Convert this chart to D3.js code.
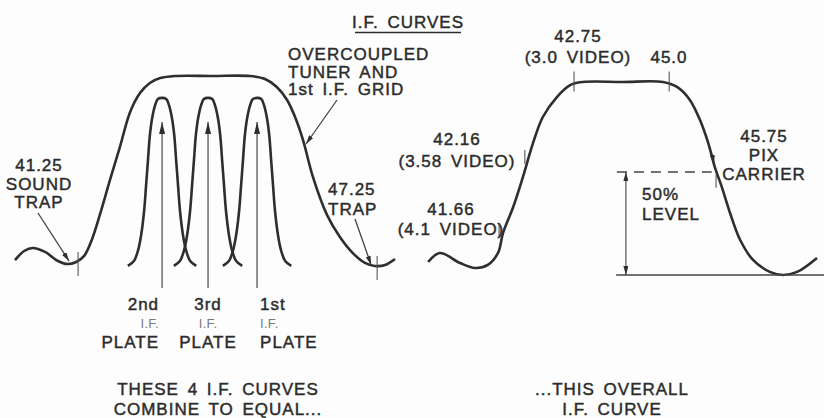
<!DOCTYPE html>
<html>
<head>
<meta charset="utf-8">
<script src="https://cdn.jsdelivr.net/npm/d3@7"></script>
<style>
  html, body { margin: 0; padding: 0; background: #fdfdfd; }
  svg { display: block; }
  text { font-family: "Liberation Sans", Arial, sans-serif; fill: #2c2c2c; stroke: #2c2c2c; stroke-width: 0.45px;
         font-size: 17px; letter-spacing: 1px; word-spacing: 3px; }
  .small { font-size: 13px; letter-spacing: 0.3px; fill: #7a7a7a; stroke: none; }
</style>
</head>
<body>
<svg id="chart" width="824" height="418"></svg>
<script>
// ---- Data: normalised response vs. relative position across the IF band ----

// Overcoupled tuner / 1st IF grid response (left drawing)
const tunerPos  = [0, 2.4, 4.7, 7.9, 11.3, 13.7, 16.1, 18.2, 20.3, 22.4, 25.0, 27.6, 30.3, 32.9, 35.5, 38.2, 42.1, 52, 61.8, 65.8, 68.9, 71.6, 73.7, 75.8, 78.4, 82.1, 85.5, 88.9, 92.1, 94.7, 97.4, 100];
const tunerResp = [0.026, 0.074, 0.090, 0.069, 0.021, 0.005, 0.016, 0.048, 0.138, 0.270, 0.450, 0.624, 0.810, 0.910, 0.963, 0.989, 1, 1, 1, 0.984, 0.942, 0.873, 0.783, 0.661, 0.466, 0.265, 0.148, 0.063, 0.011, -0.005, 0, 0.032];

// Single-tuned plate stage: response vs. detuning from its own centre
const stageDetune = [-9.0, -7.4, -6.3, -5.5, -4.7, -4.2, -3.7, -3.2, -2.6, -1.8, -1.1, 0, 1.1, 1.8, 2.6, 3.2, 3.7, 4.2, 4.7, 5.5, 6.3, 7.4, 9.0];
const stageResp   = [-0.005, 0.021, 0.079, 0.159, 0.291, 0.423, 0.556, 0.688, 0.778, 0.847, 0.878, 0.884, 0.878, 0.847, 0.778, 0.688, 0.556, 0.423, 0.291, 0.159, 0.079, 0.021, -0.005];
const stageCentres = [38.7, 50.8, 63.7];
const stageOrdinal = ["2nd", "3rd", "1st"];

// Overall IF response (right drawing)
const overallPos  = [0.3, 3.3, 8.5, 12.3, 15.6, 18.2, 19.5, 22.1, 24.6, 27.2, 29.7, 33.3, 36.7, 40.0, 50, 60.5, 64.1, 67.4, 70.0, 72.1, 73.8, 75.6, 77.7, 80.3, 83.6, 87.9, 91.3, 94.9, 100];
const overallResp = [0.063, 0.107, 0.058, 0.034, 0.049, 0.107, 0.204, 0.330, 0.476, 0.641, 0.767, 0.864, 0.922, 0.937, 0.937, 0.937, 0.913, 0.850, 0.752, 0.641, 0.524, 0.427, 0.301, 0.170, 0.073, 0.015, 0, 0.015, 0.083];

// Marked frequencies on the overall curve (MHz)
const markerFreq = ["41.66", "42.16", "42.75", "45.0", "45.75"];
const markerNote = ["(4.1 VIDEO)", "(3.58 VIDEO)", "(3.0 VIDEO)", "", ""];
const markerPos  = [19.0, 25.6, 37.7, 62.1, 73.6];
const markerResp = [0.218, 0.573, 0.930, 0.930, 0.530];

// Trap frequencies on the tuner curve (MHz)
const trapFreq = ["41.25", "47.25"];
const trapPos  = [16.6, 95.3];
const trapResp = [0.010, -0.010];

const halfLevel = 0.5;

// ---- Layout ----
const svg = d3.select("#chart");
const ink = "#2e2e2e";

const xL = d3.scaleLinear().domain([0, 100]).range([15, 395]);
const yL = d3.scaleLinear().domain([0, 1]).range([265, 76]);
const xR = d3.scaleLinear().domain([0, 100]).range([427, 817]);
const yR = d3.scaleLinear().domain([0, 1]).range([275, 69]);

// arrowheads
const defs = svg.append("defs");
function arrowMarker(id, len, wid) {
  defs.append("marker")
    .attr("id", id)
    .attr("viewBox", `0 0 ${len} ${wid}`)
    .attr("refX", len).attr("refY", wid / 2)
    .attr("markerUnits", "userSpaceOnUse")
    .attr("markerWidth", len).attr("markerHeight", wid)
    .attr("orient", "auto-start-reverse")
    .append("path")
    .attr("d", `M0,0L${len},${wid / 2}L0,${wid}Z`)
    .attr("fill", ink);
}
arrowMarker("headBig", 12, 6);
arrowMarker("headSmall", 9, 5);

function lineOf(x, y) {
  return d3.line().x(d => x(d[0])).y(d => y(d[1])).curve(d3.curveCatmullRom.alpha(0.5));
}

function multiText(g, lines, x, y, anchor, lh, cls) {
  lines.forEach((t, i) => {
    g.append("text")
      .attr("class", cls || null)
      .attr("x", x).attr("y", y + i * lh)
      .attr("text-anchor", anchor)
      .text(t);
  });
}

// ---- Title ----
const title = svg.append("g");
title.append("text").attr("x", 408).attr("y", 28).attr("text-anchor", "middle").text("I.F. CURVES");
title.append("line").attr("x1", 355).attr("x2", 461).attr("y1", 32.5).attr("y2", 32.5)
  .attr("stroke", ink).attr("stroke-width", 1.3);

// ---- Left drawing ----
const left = svg.append("g");
const lineL = lineOf(xL, yL);

left.append("path")
  .attr("d", lineL(tunerPos.map((p, i) => [p, tunerResp[i]])))
  .attr("fill", "none").attr("stroke", ink).attr("stroke-width", 2.6);

stageCentres.forEach((c, k) => {
  left.append("path")
    .attr("d", lineL(stageDetune.map((d, i) => [c + d, stageResp[i]])))
    .attr("fill", "none").attr("stroke", ink).attr("stroke-width", 2.6);
  // arrow pointing up into each stage curve
  left.append("line")
    .attr("x1", xL(c)).attr("x2", xL(c))
    .attr("y1", yL(-0.122)).attr("y2", yL(0.757))
    .attr("stroke", "#555").attr("stroke-width", 1.3)
    .attr("marker-end", "url(#headBig)");
});

// stage labels under the arrows
const stageLabelAnchor = ["end", "middle", "start"];
const stageLabelShift = [-3, 0, 3];
stageCentres.forEach((c, k) => {
  const x = xL(c) + stageLabelShift[k];
  const a = stageLabelAnchor[k];
  left.append("text").attr("x", x).attr("y", 310).attr("text-anchor", a).text(stageOrdinal[k]);
  left.append("text").attr("class", "small").attr("x", x).attr("y", 328).attr("text-anchor", a).text("I.F.");
  left.append("text").attr("x", x).attr("y", 348).attr("text-anchor", a).text("PLATE");
});

// trap ticks
trapPos.forEach((p, i) => {
  left.append("line")
    .attr("x1", xL(p)).attr("x2", xL(p))
    .attr("y1", yL(trapResp[i]) - 11).attr("y2", yL(trapResp[i]) + 13)
    .attr("stroke", "#555").attr("stroke-width", 1.1);
});

// sound trap label + leader
multiText(left, [trapFreq[0], "SOUND", "TRAP"], 39, 171, "middle", 18.5);
left.append("line").attr("x1", 38).attr("y1", 213).attr("x2", xL(trapPos[0]) - 9).attr("y2", yL(trapResp[0]) - 2)
  .attr("stroke", "#444").attr("stroke-width", 1.3).attr("marker-end", "url(#headSmall)");

// upper trap label + leader
multiText(left, [trapFreq[1], "TRAP"], 328, 195, "start", 19.5);
left.append("line").attr("x1", 355).attr("y1", 219).attr("x2", xL(trapPos[1]) - 6).attr("y2", yL(trapResp[1]) - 2)
  .attr("stroke", "#444").attr("stroke-width", 1.3).attr("marker-end", "url(#headSmall)");

// tuner label + leader
multiText(left, ["OVERCOUPLED", "TUNER AND", "1st I.F. GRID"], 288, 60, "start", 17.5);
left.append("line").attr("x1", 337).attr("y1", 100).attr("x2", 306).attr("y2", 144)
  .attr("stroke", "#444").attr("stroke-width", 1.3).attr("marker-end", "url(#headSmall)");

multiText(left, ["THESE 4 I.F. CURVES", "COMBINE TO EQUAL..."], 218, 395, "middle", 20);

// ---- Right drawing ----
const right = svg.append("g");
const lineR = lineOf(xR, yR);

right.append("path")
  .attr("d", lineR(overallPos.map((p, i) => [p, overallResp[i]])))
  .attr("fill", "none").attr("stroke", ink).attr("stroke-width", 2.6);

// base line and 50% level
right.append("line").attr("x1", xR(48.5)).attr("x2", 824).attr("y1", yR(0)).attr("y2", yR(0))
  .attr("stroke", "#444").attr("stroke-width", 1.3);
right.append("line").attr("x1", xR(48.7)).attr("x2", xR(73.0)).attr("y1", yR(halfLevel)).attr("y2", yR(halfLevel))
  .attr("stroke", "#444").attr("stroke-width", 1.4).attr("stroke-dasharray", "10,7");
right.append("line").attr("x1", xR(51.0)).attr("x2", xR(51.0)).attr("y1", yR(halfLevel)).attr("y2", yR(0))
  .attr("stroke", "#444").attr("stroke-width", 1.1)
  .attr("marker-start", "url(#headSmall)").attr("marker-end", "url(#headSmall)");
multiText(right, ["50%", "LEVEL"], 642, 200, "start", 20);

// frequency ticks on the overall curve
markerPos.forEach((p, i) => {
  const half = i >= 2 && i < 4 ? 12 : 7;
  const dx = i < 2 ? -2 : 0;
  if (i === 4) return;
  right.append("line")
    .attr("x1", xR(p) + dx).attr("x2", xR(p) + dx)
    .attr("y1", yR(markerResp[i]) - half).attr("y2", yR(markerResp[i]) + (i >= 2 ? 8 : 7))
    .attr("stroke", "#555").attr("stroke-width", 1.1);
});
// picture carrier point: arrowhead on the curve plus a tick below it
right.append("line")
  .attr("x1", xR(markerPos[4]) - 2).attr("y1", yR(markerResp[4]) - 12)
  .attr("x2", xR(markerPos[4])).attr("y2", yR(markerResp[4]) - 2)
  .attr("stroke", ink).attr("stroke-width", 1.2).attr("marker-end", "url(#headSmall)");
right.append("line")
  .attr("x1", xR(markerPos[4]) + 2).attr("x2", xR(markerPos[4]) + 2)
  .attr("y1", yR(markerResp[4]) + 9).attr("y2", yR(markerResp[4]) + 22)
  .attr("stroke", "#555").attr("stroke-width", 1.1);

// marker labels
multiText(right, [markerFreq[0], markerNote[0]], 451, 215, "middle", 20);
multiText(right, [markerFreq[1], markerNote[1]], 457, 145, "middle", 22);
multiText(right, [markerFreq[2], markerNote[2]], 578, 42, "middle", 21);
right.append("text").attr("x", 669).attr("y", 63).attr("text-anchor", "middle").text(markerFreq[3]);
multiText(right, [markerFreq[4], "PIX", "CARRIER"], 764, 142, "middle", 19);

multiText(right, ["...THIS OVERALL", "I.F. CURVE"], 612, 395, "middle", 20);
</script>
</body>
</html>
